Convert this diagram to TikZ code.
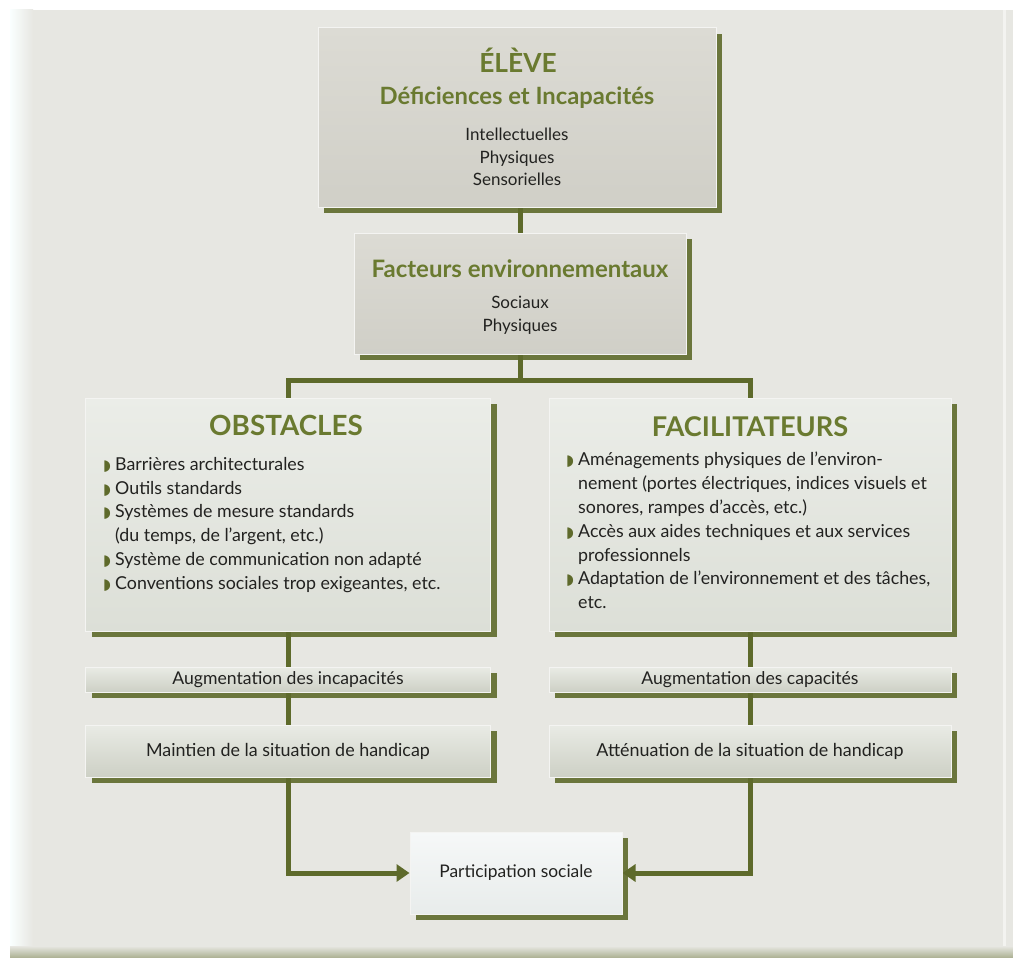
\documentclass[tikz,border=0pt]{standalone}
\usepackage{fontspec}
\setmainfont{Lato}
\newfontfamily\symfont{DejaVu Sans}
\usepackage{tikz}
\usetikzlibrary{shadows,arrows.meta}
\pgfdeclarelayer{bg}
\pgfsetlayers{bg,main}
\definecolor{panel}{HTML}{E7E7E2}
\definecolor{olv}{HTML}{5E6A2B}
\definecolor{ttl}{HTML}{6A7A30}
\definecolor{ink}{HTML}{222220}
\definecolor{greytop}{HTML}{DCDBD4}
\definecolor{greybot}{HTML}{D0CFC7}
\definecolor{palltop}{HTML}{EBEDE8}
\definecolor{pallbot}{HTML}{DCDFD7}
\definecolor{striptop}{HTML}{E9EBE5}
\definecolor{stripbot}{HTML}{CDD0C5}
\definecolor{whitetop}{HTML}{F6F8F8}
\definecolor{whitebot}{HTML}{E8ECEB}
\newcommand{\bul}{\makebox[12pt][l]{\textcolor{olv}{\symfont\fontsize{15}{15}\selectfont ◗}}}
\newcommand{\ind}{\hspace*{12pt}}
\tikzset{
  box/.style={draw=white!55!panel, line width=1pt, inner sep=0pt,
    drop shadow={shadow xshift=6pt, shadow yshift=-6pt, fill=olv, opacity=.9}},
  greybox/.style={box, top color=greytop, bottom color=greybot},
  listbox/.style={box, top color=palltop, bottom color=pallbot},
  stripbox/.style={box, top color=striptop, bottom color=stripbot},
  endbox/.style={box, top color=whitetop, bottom color=whitebot},
  ttltext/.style={text=ttl, inner sep=0pt, font=\bfseries\fontsize{#1}{#1}\selectfont},
  bodytext/.style={text=ink, inner sep=0pt, font=\fontsize{17}{22.5}\selectfont},
  listtext/.style={text=ink, inner sep=0pt, align=left, font=\fontsize{17.8}{23.8}\selectfont},
  link/.style={draw=olv, line width=5pt}
}
\begin{document}
\begin{tikzpicture}[x=1pt,y=-1pt]
\useasboundingbox (0,0) rectangle (1013,958);
\begin{pgfonlayer}{bg}
\fill[white] (0,0) rectangle (1013,958);
\fill[panel] (10,10) rectangle (1013,958);
\shade[left color=white!80!cyan!10, right color=panel] (10,10) rectangle (33,958);
\shade[top color=panel, bottom color=olv!45!panel] (10,946) rectangle (1013,958);
\fill[white!50!panel] (1003,10) rectangle (1006,946);
\end{pgfonlayer}

\node[greybox, minimum width=398pt, minimum height=179pt] (eleve) at (517,117.5) {};
\node[ttltext=26.3, anchor=base] (elevetitle) at (518,73) {ÉLÈVE};
\node[ttltext=23.8, anchor=base] (elevesub) at (517,105) {Déficiences et Incapacités};
\node[bodytext, align=center, anchor=north] (elevelist) at (517,128) {Intellectuelles\\Physiques\\Sensorielles};

\node[greybox, minimum width=332pt, minimum height=121pt] (facteurs) at (520,293.5) {};
\node[ttltext=24, anchor=base] (facteurstitle) at (520,277) {Facteurs environnementaux};
\node[bodytext, align=center, anchor=north] (facteurslist) at (520,296) {Sociaux\\Physiques};

\coordinate (split) at (520,380);

\node[listbox, minimum width=405pt, minimum height=233pt] (obstacles) at (288,514.5) {};
\node[ttltext=27.8, anchor=base] (obstaclestitle) at (286,435) {OBSTACLES};
\node[listtext, anchor=north west] (obstacleslist) at (103,457) {\bul Barrières architecturales\\
\bul Outils standards\\
\bul Systèmes de mesure standards\\
\ind (du temps, de l’argent, etc.)\\
\bul Système de communication non adapté\\
\bul Conventions sociales trop exigeantes, etc.};

\node[listbox, minimum width=402pt, minimum height=233pt] (facilitateurs) at (750,514.5) {};
\node[ttltext=27.2, anchor=base] (facilitateurstitle) at (750,436) {FACILITATEURS};
\node[listtext, anchor=north west] (facilitateurslist) at (566,452) {\bul Aménagements physiques de l’environ-\\
\ind nement (portes électriques, indices visuels et\\
\ind sonores, rampes d’accès, etc.)\\
\bul Accès aux aides techniques et aux services\\
\ind professionnels\\
\bul Adaptation de l’environnement et des tâches,\\
\ind etc.};

\node[stripbox, minimum width=405pt, minimum height=25pt, font=\fontsize{17.6}{17.6}\selectfont, text=ink] (augmin) at (288,679.5) {Augmentation des incapacités};
\node[stripbox, minimum width=402pt, minimum height=25pt, font=\fontsize{17.6}{17.6}\selectfont, text=ink] (augcap) at (750,679.5) {Augmentation des capacités};

\node[stripbox, minimum width=405pt, minimum height=52pt, font=\fontsize{17.9}{17.9}\selectfont, text=ink] (maintien) at (288,751) {Maintien de la situation de handicap};
\node[stripbox, minimum width=402pt, minimum height=52pt, font=\fontsize{17.9}{17.9}\selectfont, text=ink] (attenuation) at (750,751) {Atténuation de la situation de handicap};

\node[endbox, minimum width=212pt, minimum height=82pt, font=\fontsize{17.4}{17.4}\selectfont, text=ink] (participation) at (516,873) {Participation sociale};

\begin{pgfonlayer}{bg}
\draw[link] (facteurs.north |- eleve.south) -- (facteurs.north);
\draw[link] (facteurs.south) -- (split);
\draw[link] (obstacles.north) |- (split) -| (facilitateurs.north);
\draw[link] (obstacles.south) -- (augmin.north);
\draw[link] (facilitateurs.south) -- (augcap.north);
\draw[link] (augmin.south) -- (maintien.north);
\draw[link] (augcap.south) -- (attenuation.north);
\draw[link, -{Triangle[length=13pt,width=17pt]}] (maintien.south) |- (participation.west);
\draw[link, -{Triangle[length=13pt,width=17pt]}] (attenuation.south) |- (participation.east);
\end{pgfonlayer}
\end{tikzpicture}
\end{document}
